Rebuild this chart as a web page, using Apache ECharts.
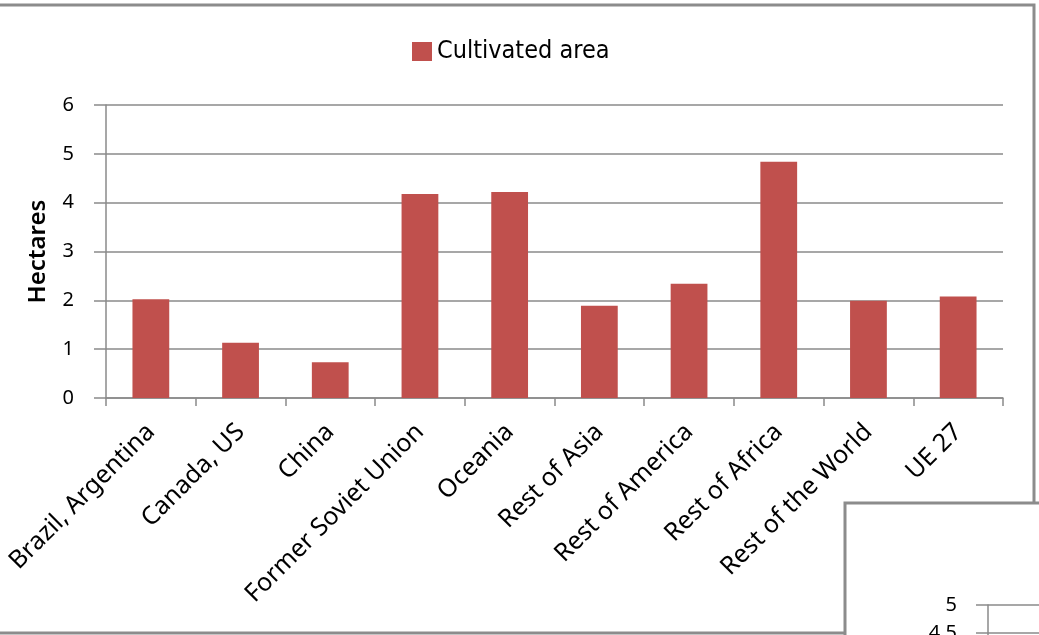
<!DOCTYPE html>
<html>
<head>
<meta charset="utf-8">
<script src="https://cdn.jsdelivr.net/npm/echarts@6/dist/echarts.min.js"></script>
<style>
  html, body { margin:0; padding:0; background:#fff; }
  #main { width:1039px; height:635px; }
</style>
</head>
<body>
<div id="main"></div>
<script>
// 数据
var regions = ['Brazil, Argentina','Canada, US','China','Former Soviet Union','Oceania','Rest of Asia','Rest of America','Rest of Africa','Rest of the World','UE 27'];
var cultivatedArea = [2.02, 1.13, 0.73, 4.18, 4.22, 1.89, 2.34, 4.84, 1.99, 2.08];
var yTicks = [0, 1, 2, 3, 4, 5, 6];
// 右下角被遮住的第二张图的刻度
var sideTicks = [4, 4.5, 5];

var chart = echarts.init(document.getElementById('main'));
var gridColor = '#8a8a8a';
var labelFont = 'Noto Sans';

var option = {
    animation: false,
    backgroundColor: '#fff',
    legend: {
        data: ['Cultivated area'],
        left: 412,
        top: 39,
        padding: 0,
        icon: 'rect',
        itemWidth: 20,
        itemHeight: 19,
        itemGap: 5,
        textStyle: { color:'#000', fontFamily:'DejaVu Sans Condensed', fontSize:25 }
    },
    grid: [
        { left:106, top:105, right:36, bottom:237, outerBoundsMode:'none' },
        { left:988, top:605, right:0, height:56, outerBoundsMode:'none' }
    ],
    xAxis: [
        {
            type: 'category',
            gridIndex: 0,
            data: regions,
            boundaryGap: true,
            axisLine: { lineStyle:{ color:gridColor, width:1.5 } },
            axisTick: { show:true, length:8, alignWithLabel:false, lineStyle:{ color:gridColor, width:1.5 } },
            axisLabel: {
                rotate: 45,
                interval: 0,
                margin: 30,
                color: '#000',
                fontFamily: labelFont,
                fontSize: 25
            }
        },
        {
            type: 'category',
            gridIndex: 1,
            data: [''],
            show: false
        }
    ],
    yAxis: [
        {
            type: 'value',
            gridIndex: 0,
            min: yTicks[0],
            max: yTicks[yTicks.length - 1],
            interval: 1,
            name: 'Hectares',
            nameLocation: 'middle',
            nameGap: 56,
            nameTextStyle: { color:'#000', fontFamily:labelFont, fontSize:24, fontWeight:600 },
            axisLine: { show:true, lineStyle:{ color:gridColor, width:1.5 } },
            axisTick: { show:true, length:12, lineStyle:{ color:gridColor, width:1.5 } },
            axisLabel: { margin:32, color:'#000', fontFamily:labelFont, fontSize:20 },
            splitLine: { show:true, lineStyle:{ color:gridColor, width:1.5 } }
        },
        {
            type: 'value',
            gridIndex: 1,
            min: sideTicks[0],
            max: sideTicks[sideTicks.length - 1],
            interval: 0.5,
            axisLine: { show:true, lineStyle:{ color:gridColor, width:1.5 } },
            axisTick: { show:true, length:12, lineStyle:{ color:gridColor, width:1.5 } },
            axisLabel: { margin:31, color:'#000', fontFamily:labelFont, fontSize:20 },
            splitLine: { show:true, lineStyle:{ color:gridColor, width:1.5 } }
        }
    ],
    series: [
        {
            name: 'Cultivated area',
            type: 'bar',
            xAxisIndex: 0,
            yAxisIndex: 0,
            barWidth: '41%',
            itemStyle: { color:'#C0504D' },
            data: cultivatedArea
        }
    ],
    graphic: [
        // 外框
        {
            type: 'polyline',
            shape: { points: [[0,5],[1034,5],[1034,503]] },
            style: { stroke:'#8c8c8c', lineWidth:3, fill:null }
        },
        {
            type: 'polyline',
            shape: { points: [[0,633],[845,633]] },
            style: { stroke:'#8c8c8c', lineWidth:3, fill:null }
        },
        // 第二张图的框
        {
            type: 'polyline',
            shape: { points: [[845,640],[845,503],[1039,503]] },
            style: { stroke:'#8c8c8c', lineWidth:3, fill:null }
        }
    ]
};
chart.setOption(option);
</script>
</body>
</html>
